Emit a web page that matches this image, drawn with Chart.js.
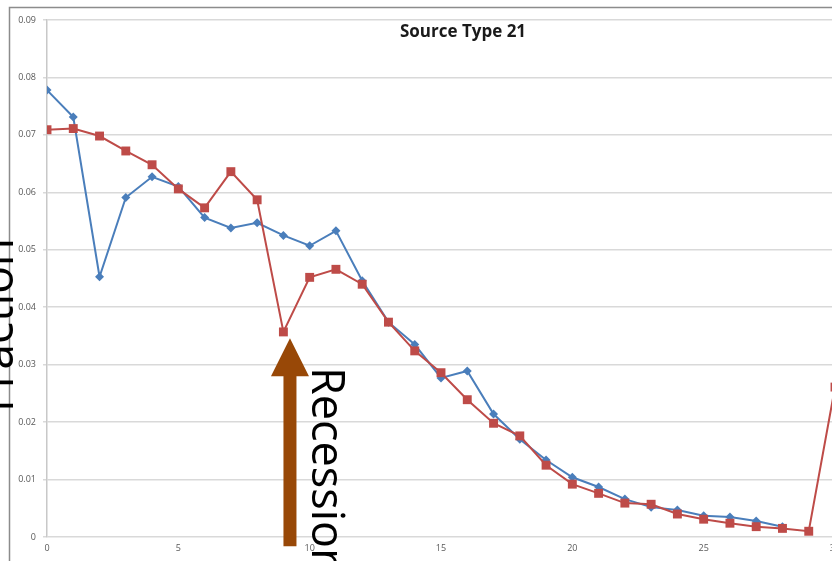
<!DOCTYPE html>
<html>
<head>
<meta charset="utf-8">
<script src="https://cdn.jsdelivr.net/npm/chart.js@4"></script>
<style>
  html, body { margin: 0; padding: 0; background: #fff; overflow: hidden; }
  #wrap { width: 832px; height: 561px; overflow: hidden; position: relative; }
  canvas { position: absolute; left: 0; top: 0; }
</style>
</head>
<body>
<div id="wrap"><canvas id="chart" width="926" height="561"></canvas></div>
<script>
// Source Type 21: age fraction, two series
const ages = [0, 1, 2, 3, 4, 5, 6, 7, 8, 9, 10, 11, 12, 13, 14, 15, 16, 17, 18, 19, 20, 21, 22, 23, 24, 25, 26, 27, 28, 29, 30];
const blueValues = [0.0778, 0.0731, 0.0453, 0.0591, 0.0627, 0.0610, 0.0556, 0.0538, 0.0547, 0.0525,
  0.0507, 0.0533, 0.0446, 0.0374, 0.0335, 0.0277, 0.0289, 0.0214, 0.0170, 0.0134,
  0.0104, 0.0087, 0.0066, 0.0052, 0.0047, 0.0037, 0.0035, 0.0028, 0.0018, null, null];
const redValues = [0.0709, 0.0711, 0.0698, 0.0672, 0.0648, 0.0606, 0.0573, 0.0636, 0.0587, 0.0357,
  0.0452, 0.0466, 0.0440, 0.0374, 0.0324, 0.0286, 0.0239, 0.0198, 0.0176, 0.0125,
  0.0092, 0.0076, 0.0059, 0.0057, 0.0040, 0.0031, 0.0024, 0.0018, 0.0015, 0.0010, 0.0261];
const yTicks = [0, 0.01, 0.02, 0.03, 0.04, 0.05, 0.06, 0.07, 0.08, 0.09];
const xTicks = [0, 5, 10, 15, 20, 25, 30];
const chartTitle = 'Source Type 21';
const yLabel = 'Fraction';
const noteLabel = 'Recession';
const notePos = { x: 9.25, tip: 0.0346, base: 0.0280, bottom: -0.0016 };

function toPoints(vals) {
  return ages.map((a, i) => ({ x: a, y: vals[i] }));
}

// frame, title, big labels and the arrow
const extras = {
  id: 'extras',
  beforeDraw(chart) {
    const ctx = chart.ctx;
    ctx.save();
    ctx.fillStyle = '#fff';
    ctx.fillRect(0, 0, chart.width, chart.height);
    ctx.strokeStyle = '#8c8c8c';
    ctx.lineWidth = 1.5;
    ctx.beginPath();
    ctx.moveTo(9.5, chart.height + 5);
    ctx.lineTo(9.5, 7.5);
    ctx.lineTo(chart.width + 5, 7.5);
    ctx.stroke();
    ctx.restore();
  },
  afterDraw(chart) {
    const ctx = chart.ctx;
    const xs = chart.scales.x, ys = chart.scales.y;
    ctx.save();
    // title
    ctx.fillStyle = '#1a1a1a';
    ctx.font = 'bold 17px "Open Sans", sans-serif';
    ctx.textAlign = 'center';
    ctx.textBaseline = 'alphabetic';
    ctx.fillText(chartTitle, 463, 37);

    // arrow
    const cx = xs.getPixelForValue(notePos.x);
    const tip = ys.getPixelForValue(notePos.tip);
    const base = ys.getPixelForValue(notePos.base);
    const bottom = ys.getPixelForValue(notePos.bottom);
    ctx.fillStyle = '#984807';
    ctx.beginPath();
    ctx.moveTo(cx, tip);
    ctx.lineTo(cx + 19, base);
    ctx.lineTo(cx + 6.5, base);
    ctx.lineTo(cx + 6.5, bottom);
    ctx.lineTo(cx - 6.5, bottom);
    ctx.lineTo(cx - 6.5, base);
    ctx.lineTo(cx - 19, base);
    ctx.closePath();
    ctx.fill();

    // Recession, rotated clockwise
    ctx.fillStyle = '#000';
    ctx.font = '45px "Open Sans", sans-serif';
    ctx.textAlign = 'left';
    ctx.textBaseline = 'alphabetic';
    ctx.translate(cx + 22, 367);
    ctx.rotate(Math.PI / 2);
    ctx.fillText(noteLabel, 0, 0);
    ctx.setTransform(1, 0, 0, 1, 0, 0);

    // Fraction, rotated counter-clockwise, mostly off the left edge
    ctx.font = '46px "Open Sans", sans-serif';
    ctx.translate(13, 412);
    ctx.rotate(-Math.PI / 2);
    ctx.fillText(yLabel, 0, 0);
    ctx.restore();
  }
};

new Chart(document.getElementById('chart').getContext('2d'), {
  type: 'line',
  data: {
    datasets: [
      {
        label: 'Series 1',
        data: toPoints(blueValues),
        borderColor: '#4a7ebb',
        backgroundColor: '#4a7ebb',
        borderWidth: 2,
        pointStyle: 'rectRot',
        pointRadius: 4.5,
        pointBorderWidth: 0,
        tension: 0,
        order: 1
      },
      {
        label: 'Series 2',
        data: toPoints(redValues),
        borderColor: '#be4b48',
        backgroundColor: '#be4b48',
        borderWidth: 2,
        pointStyle: 'rect',
        pointRadius: 6.3,
        pointBorderWidth: 0,
        tension: 0,
        order: 0
      }
    ]
  },
  options: {
    responsive: false,
    animation: false,
    spanGaps: false,
    layout: { padding: { top: 20, right: 91, left: 0, bottom: 0 } },
    plugins: {
      legend: { display: false },
      title: { display: false },
      tooltip: { enabled: false }
    },
    scales: {
      x: {
        type: 'linear',
        min: 0,
        max: 30,
        afterFit: s => { s.height = 24; },
        afterBuildTicks: s => { s.ticks = xTicks.map(v => ({ value: v })); },
        grid: { display: false, drawTicks: false },
        border: { display: false },
        ticks: { color: '#595959', font: { size: 9, family: '"Open Sans", sans-serif' }, padding: 6 }
      },
      y: {
        min: 0,
        max: 0.09,
        afterFit: s => { s.width = 47; },
        afterBuildTicks: s => { s.ticks = yTicks.map(v => ({ value: v })); },
        grid: { color: '#d9d9d9', lineWidth: 1.5, tickLength: 4 },
        border: { color: '#c8c8c8', width: 1.5 },
        ticks: {
          color: '#595959',
          font: { size: 9, family: '"Open Sans", sans-serif' },
          padding: 7,
          callback: v => (v === 0 ? '0' : v.toFixed(2))
        }
      }
    }
  },
  plugins: [extras]
});
</script>
</body>
</html>
